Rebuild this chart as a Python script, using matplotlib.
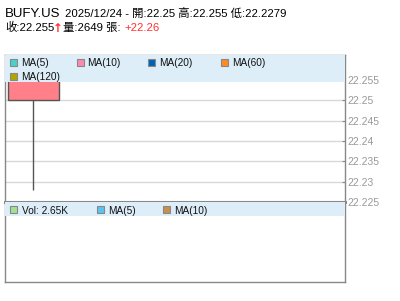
import matplotlib
matplotlib.use("Agg")
import matplotlib.pyplot as plt
from matplotlib.patches import Rectangle

plt.rcParams['font.family'] = ['Liberation Sans', 'Noto Sans CJK TC', 'DejaVu Sans']

# data
symbol = "BUFY.US"
date = "2025/12/24"
opens = [22.25]
highs = [22.255]
lows = [22.2279]
closes = [22.255]
volumes = [2649]
change = 22.26
y_ticks = [22.225, 22.23, 22.235, 22.24, 22.245, 22.25, 22.255]
main_legend = ["MA(5)", "MA(10)", "MA(20)", "MA(60)", "MA(120)"]
main_legend_colors = ["#48d2cc", "#ff88b0", "#0062b4", "#ff8a20", "#b4a400"]
vol_legend_colors = ["#a4e092", "#58c4f2", "#c8904a"]

W, H = 400, 301
fig = plt.figure(figsize=(W / 100, H / 100), dpi=100)


def fx(x):
    return x / W


def fy(y):
    return 1 - y / H


def box(x, y, color):
    fig.add_artist(Rectangle((fx(x), fy(y + 7)), 7 / W, 7 / H, transform=fig.transFigure,
                             facecolor=color, edgecolor="#888888", lw=0.8))


GRAY = "#888888"

# main price panel
ax = fig.add_axes([fx(5), fy(202), 340 / W, 147 / H])
ax.set_xlim(-0.447, 4.886)
ax.set_ylim(22.225, 22.2611)
for i, (o, h, l, c) in enumerate(zip(opens, highs, lows, closes)):
    ax.vlines(i, l, min(o, c), color="#555555", lw=1, zorder=2)
    ax.add_patch(Rectangle((i - 0.4, min(o, c)), 0.8, abs(c - o), facecolor="#ff8088",
                           edgecolor="#555555", lw=1, zorder=2))
ax.set_yticks(y_ticks)
ax.set_yticklabels([f"{t:g}" for t in y_ticks])
ax.yaxis.tick_right()
ax.tick_params(axis="y", direction="in", length=2, width=0.8, color=GRAY, labelcolor="#999999",
               labelsize=7.5, pad=2)
ax.set_xticks([])
ax.grid(axis="y", color="#d8d8d8", lw=1)
ax.set_axisbelow(True)
for s in ["left", "right", "top"]:
    ax.spines[s].set_color(GRAY)
    ax.spines[s].set_linewidth(1)
ax.spines["bottom"].set_color(GRAY)
ax.spines["bottom"].set_linewidth(2.2)
ax.add_patch(Rectangle((0, 1 - 27 / 147), 1, 27 / 147, transform=ax.transAxes,
                       facecolor="#ddeef9", edgecolor="none", zorder=3))

# main legend
legend_pos = [(10, 59, 21, 66), (77, 59, 87, 66), (148, 59, 159, 66), (221, 59, 232, 66),
              (10, 73, 21, 80)]
for name, col, (bx, by, tx, ty) in zip(main_legend, main_legend_colors, legend_pos):
    box(bx, by, col)
    fig.text(fx(tx), fy(ty), name, fontsize=7.3, color="#111111", va="baseline")

# volume panel
vax = fig.add_axes([fx(5), fy(282), 340 / W, 80 / H])
vax.set_xlim(ax.get_xlim())
vax.set_ylim(0, max(volumes) * 8)
vax.set_xticks([])
vax.set_yticks([])
for s in ["left", "right", "bottom"]:
    vax.spines[s].set_color(GRAY)
    vax.spines[s].set_linewidth(1)
vax.spines["top"].set_visible(False)
vax.add_patch(Rectangle((0, 1 - 14 / 80), 1, 14 / 80, transform=vax.transAxes,
                        facecolor="#ddeef9", edgecolor="none", zorder=3))

vol_legend = [f"Vol: {volumes[-1] / 1000:.2f}K", "MA(5)", "MA(10)"]
vol_pos = [(10, 206, 22, 214), (97, 206, 108, 214), (163, 206, 174, 214)]
for name, col, (bx, by, tx, ty) in zip(vol_legend, vol_legend_colors, vol_pos):
    box(bx, by, col)
    fig.text(fx(tx), fy(ty), name, fontsize=7.3, color="#111111", va="baseline")

# header
fig.text(fx(5), fy(17), symbol, fontsize=9.5, va="baseline")
fig.text(fx(65), fy(17), f"{date} - 開:{opens[0]:g} 高:{highs[0]:g} 低:{lows[0]:g}",
         fontsize=8.2, va="baseline")
fig.text(fx(5), fy(31), f"收:{closes[0]:g}", fontsize=8.2, va="baseline")
fig.text(fx(53), fy(31.5), "↑", fontsize=8.5, color="#ff3030", fontweight="bold", va="baseline",
         family="DejaVu Sans")
fig.text(fx(63), fy(31), f"量:{volumes[0]} 張:", fontsize=8.2, va="baseline")
fig.text(fx(124), fy(31), f"+{change:g}", fontsize=8.2, color="#ff3030", va="baseline")

fig.savefig("out.png", dpi=100)
